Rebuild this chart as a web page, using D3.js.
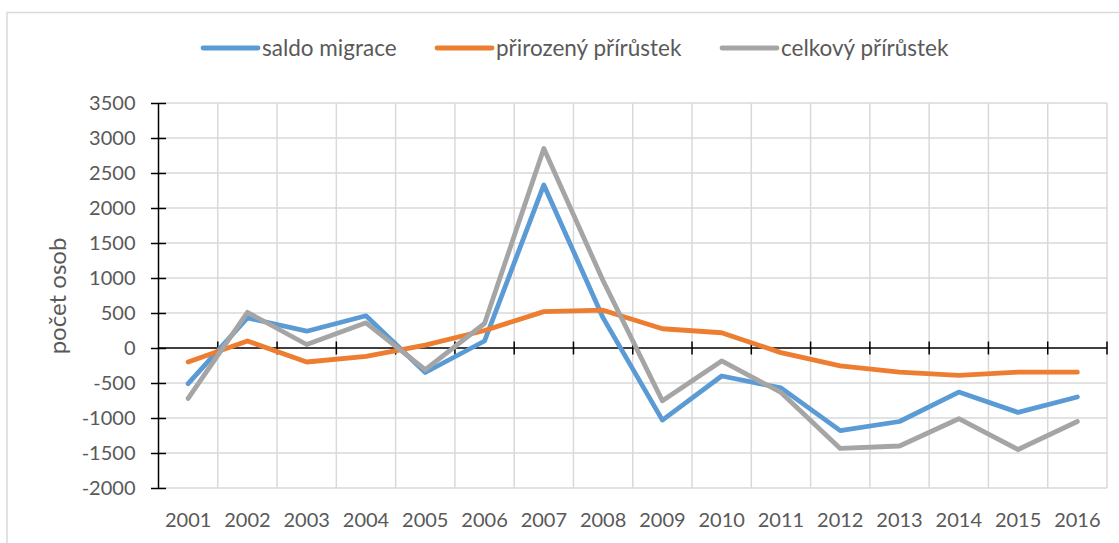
<!DOCTYPE html>
<html>
<head>
<meta charset="utf-8">
<script src="https://cdn.jsdelivr.net/npm/d3@7"></script>
<style>
  body { margin: 0; background: #fff; }
  svg text { font-family: Lato, "Open Sans", sans-serif; fill: #595959; }
</style>
</head>
<body>
<svg id="chart"></svg>
<script>
const years = ['2001','2002','2003','2004','2005','2006','2007','2008','2009','2010','2011','2012','2013','2014','2015','2016'];
const saldoMigrace = [-510, 430, 240, 460, -350, 100, 2330, 430, -1030, -400, -570, -1180, -1050, -630, -920, -700];
const prirozenyPrirustek = [-200, 100, -200, -120, 40, 250, 520, 540, 275, 218, -66, -256, -345, -390, -345, -345];
const celkovyPrirustek = [-720, 510, 50, 360, -310, 350, 2850, 960, -755, -185, -635, -1435, -1400, -1010, -1450, -1050];
const yTicks = [-2000, -1500, -1000, -500, 0, 500, 1000, 1500, 2000, 2500, 3000, 3500];
const seriesNames = ['saldo migrace', 'přirozený přírůstek', 'celkový přírůstek'];
const seriesColors = ['#5B9BD5', '#ED7D31', '#A5A5A5'];

const w = 1119, h = 543;
const plot = {left: 158.5, right: 1107, top: 103, bottom: 488};

const chart = d3.select('#chart')
  .attr('width', w)
  .attr('height', h);

// outer frame
chart.append('rect')
  .attr('x', 7).attr('y', 12.5)
  .attr('width', w + 10).attr('height', h)
  .attr('fill', 'none')
  .attr('stroke', '#D9D9D9')
  .attr('stroke-width', 1.5);

const xScale = d3.scaleBand()
  .domain(years)
  .range([plot.left, plot.right]);

const yScale = d3.scaleLinear()
  .domain([-2000, 3500])
  .range([plot.bottom, plot.top]);

// gridlines
const bounds = years.map(d => xScale(d)).slice(1).concat([plot.right]);
chart.append('g').selectAll('line')
  .data(yTicks.filter(d => d !== 0))
  .join('line')
  .attr('x1', plot.left).attr('x2', plot.right)
  .attr('y1', d => yScale(d)).attr('y2', d => yScale(d))
  .attr('stroke', '#D9D9D9').attr('stroke-width', 1.5);

chart.append('g').selectAll('line')
  .data(bounds)
  .join('line')
  .attr('x1', d => d).attr('x2', d => d)
  .attr('y1', plot.top).attr('y2', plot.bottom)
  .attr('stroke', '#D9D9D9').attr('stroke-width', 1.5);

// Y AXIS (plain hyphen for negatives, like the original)
const yAxisGroup = chart.append('g')
  .attr('transform', `translate(${plot.left}, 0)`)
  .call(d3.axisLeft(yScale).tickValues(yTicks).tickFormat(d => String(d)).tickSize(7.5).tickPadding(15.5));
yAxisGroup.select('.domain').remove();
yAxisGroup.selectAll('.tick line')
  .attr('x1', -7.5).attr('x2', 7.5)
  .attr('stroke', '#000').attr('stroke-width', 1.5);
yAxisGroup.selectAll('.tick text')
  .style('font-size', '20px')
  .attr('font-family', null);
yAxisGroup.append('line')
  .attr('x1', 0).attr('x2', 0)
  .attr('y1', plot.top).attr('y2', plot.bottom)
  .attr('stroke', '#000').attr('stroke-width', 1.5);

// zero line with crossing ticks
chart.append('line')
  .attr('x1', plot.left).attr('x2', plot.right)
  .attr('y1', yScale(0)).attr('y2', yScale(0))
  .attr('stroke', '#000').attr('stroke-width', 1.5);
chart.append('g').selectAll('line')
  .data(bounds)
  .join('line')
  .attr('x1', d => d).attr('x2', d => d)
  .attr('y1', yScale(0) - 6.5).attr('y2', yScale(0) + 6.5)
  .attr('stroke', '#000').attr('stroke-width', 1.5);

// X AXIS labels at bottom
const xAxisGroup = chart.append('g')
  .attr('transform', `translate(0, ${plot.bottom})`)
  .call(d3.axisBottom(xScale).tickSize(0).tickPadding(25));
xAxisGroup.select('.domain').remove();
xAxisGroup.selectAll('.tick text')
  .style('font-size', '20px')
  .attr('font-family', null);

// Y AXIS LABEL
chart.append('text')
  .attr('transform', `translate(${66}, ${296}) rotate(-90)`)
  .attr('text-anchor', 'middle')
  .style('font-size', '24px')
  .text('počet osob');

// lines
const allSeries = [saldoMigrace, prirozenyPrirustek, celkovyPrirustek];
const line = d3.line()
  .x((d, i) => xScale(years[i]) + xScale.bandwidth() / 2)
  .y(d => yScale(d));

chart.append('g').selectAll('path')
  .data(allSeries)
  .join('path')
  .attr('d', d => line(d))
  .attr('fill', 'none')
  .attr('stroke', (d, i) => seriesColors[i])
  .attr('stroke-width', 4.8)
  .attr('stroke-linejoin', 'round')
  .attr('stroke-linecap', 'round');

// legend
const legendX = [203, 437, 722];
const legend = chart.append('g').selectAll('g')
  .data(seriesNames)
  .join('g')
  .attr('transform', (d, i) => `translate(${legendX[i]}, 48)`);
legend.append('line')
  .attr('x1', 0).attr('x2', 55)
  .attr('stroke', (d, i) => seriesColors[i])
  .attr('stroke-width', 4.8)
  .attr('stroke-linecap', 'round');
legend.append('text')
  .attr('x', 59)
  .attr('dy', '0.35em')
  .style('font-size', '22.5px')
  .text(d => d);
</script>
</body>
</html>
